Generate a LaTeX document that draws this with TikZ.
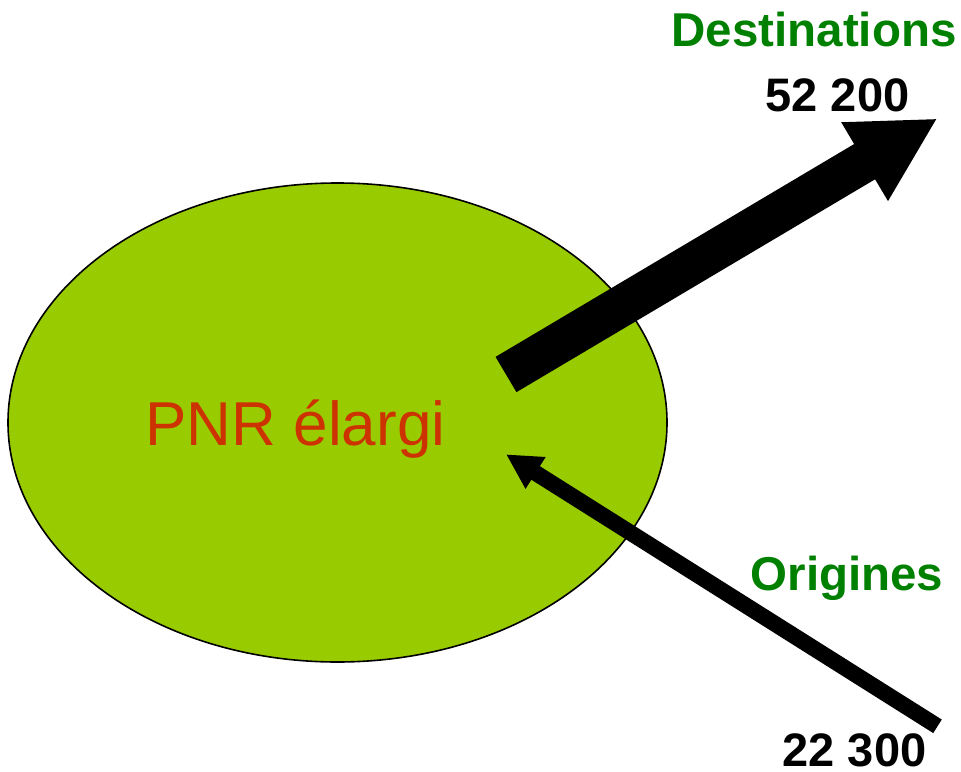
\documentclass[tikz,border=0pt]{standalone}
\usepackage{fontspec}
\setmainfont{Liberation Sans}
\usetikzlibrary{arrows.meta,shapes.geometric}
\definecolor{zonefill}{HTML}{99CC00}
\definecolor{labelgreen}{HTML}{008000}
\definecolor{zonered}{HTML}{CC3300}
\tikzset{
  zone/.style={ellipse, draw=black, line width=1.6pt, fill=zonefill,
    minimum width=659pt, minimum height=479pt, inner sep=0pt},
  flowtitle/.style={anchor=base, inner sep=0pt, text=labelgreen,
    font=\fontsize{47.5pt}{50pt}\selectfont\bfseries},
  flowcount/.style={anchor=base, inner sep=0pt, text=black,
    font=\fontsize{47pt}{50pt}\selectfont\bfseries},
  zonelabel/.style={anchor=base, inner sep=0pt, text=zonered,
    font=\fontsize{62pt}{66pt}\selectfont},
  outflow/.style={line width=41pt, line cap=butt,
    -{Triangle[length=85pt,width=85pt]}},
  inflow/.style={line width=16pt, line cap=butt,
    -{Triangle[length=35pt,width=35pt]}}
}
\begin{document}
\begin{tikzpicture}[x=1pt,y=-1pt]
  \useasboundingbox (0,0) rectangle (961,771);

  % study area
  \node[zone] (zone) at (337.5,422.5) {};
  \node[zonelabel] (zonename) at (295.5,445) {PNR élargi};

  % flow end points
  \coordinate (outstart) at (506,374.5);
  \coordinate (outend) at (937.7,118.3);
  \coordinate (instart) at (937.5,726.3);
  \coordinate (inend) at (506,454.3);

  % flows
  \draw[outflow] (outstart) -- (outend);
  \draw[inflow] (instart) -- (inend);

  % labels
  \node[flowtitle] (dest) at (814,46.7) {Destinations};
  \node[flowcount] (destn) at (837.5,111) {52 200};
  \node[flowtitle] (orig) at (847,590) {Origines};
  \node[flowcount] (orign) at (854.5,766) {22 300};
\end{tikzpicture}
\end{document}
